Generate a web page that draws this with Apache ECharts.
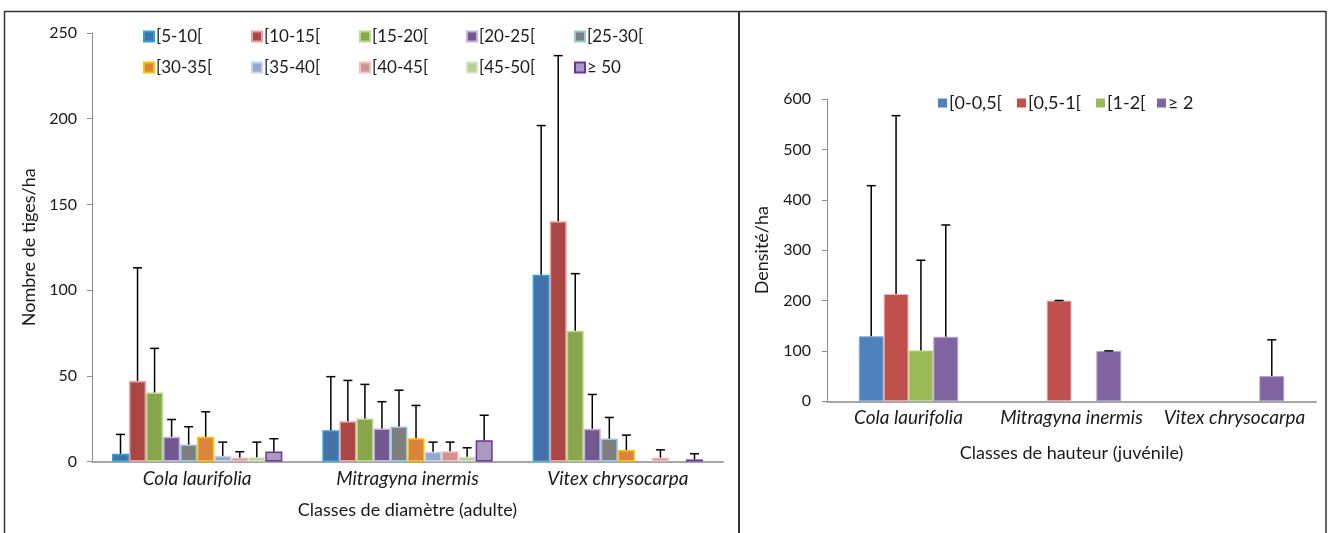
<!DOCTYPE html>
<html>
<head>
<meta charset="utf-8">
<script src="https://cdn.jsdelivr.net/npm/echarts@6/dist/echarts.min.js"></script>
<style>
html,body{margin:0;padding:0;background:#fff;}
#c{width:1330px;height:533px;}
</style>
</head>
<body>
<div id="c"></div>
<script>
// ---------- DATA ----------
const species = ['Cola laurifolia', 'Mitragyna inermis', 'Vitex chrysocarpa'];

// Left chart: diameter classes (adult), stems/ha
const diamClasses = ['[5-10[', '[10-15[', '[15-20[', '[20-25[', '[25-30[', '[30-35[', '[35-40[', '[40-45[', '[45-50[', '≥ 50'];
const colaDiam     = [4.5, 47.0, 40.3, 14.4, 9.9, 14.4, 3.3, 2.3, 2.5, 5.8];
const colaDiamSd   = [11.3, 66.0, 25.7, 10.1, 10.4, 14.6, 8.0, 3.4, 8.8, 7.5];
const mitraDiam    = [18.3, 23.5, 25.1, 19.3, 20.4, 13.6, 5.7, 6.0, 2.7, 12.4];
const mitraDiamSd  = [31.2, 23.8, 19.9, 15.6, 21.2, 19.1, 5.6, 5.3, 5.3, 14.6];
const vitexDiam    = [108.9, 140.2, 76.3, 19.1, 13.4, 6.7, null, 2.3, null, 1.2];
const vitexDiamSd  = [87.1, 96.6, 33.3, 20.0, 12.3, 8.7, null, 4.5, null, 3.3];
const diamTicks = [0, 50, 100, 150, 200, 250];

// Right chart: height classes (juvenile), density/ha
const heightClasses = ['[0-0,5[', '[0,5-1[', '[1-2[', '≥ 2'];
const colaHeight     = [129, 213, 101, 128];
const colaHeightSd   = [299, 354, 179, 222];
const mitraHeight    = [null, 200, null, 100];
const mitraHeightSd  = [null, 0, null, 0];
const vitexHeight    = [null, null, null, 50];
const vitexHeightSd  = [null, null, null, 72];
const heightTicks = [0, 100, 200, 300, 400, 500, 600];

// ---------- STYLE ----------
const FONT = 'Lato, "Open Sans", sans-serif';
const diamFill   = ['#4472A8', '#AA4643', '#89A54E', '#71588F', '#7F7F7F', '#DB843D', '#93A9CF', '#D19392', '#B9CD96', '#A99BBD'];
const diamBorder = ['#2BA3DF', '#E6A3A3', '#B8DC86', '#C7B2DE', '#93CDDD', '#FFC000', '#C5D4EC', '#EFC0C0', '#D6E4BF', '#7030A0'];
const hFill   = ['#4F81BD', '#C0504D', '#9BBB59', '#8064A2'];
const hBorder = ['#8EAADB', '#E6B9B8', '#C3D69B', '#B3A2C7'];

const leftGap = 0.19, rightGap = 0.39;

function errRender(nSeries, gapFrac) {
  return function (params, api) {
    const cat = api.value(0), v = api.value(1), e = api.value(2), s = api.value(3);
    const band = api.size([1, 0])[0];
    const groupW = band * (1 - gapFrac);
    const bw = groupW / nSeries;
    const base = api.coord([cat, v]);
    const top = api.coord([cat, v + e]);
    const x = base[0] - groupW / 2 + bw * (s + 0.5);
    const st = { stroke: '#000', lineWidth: 1.5 };
    return {
      type: 'group',
      children: [
        { type: 'line', shape: { x1: x, y1: base[1], x2: x, y2: top[1] }, style: st },
        { type: 'line', shape: { x1: x - 4.5, y1: top[1], x2: x + 4.5, y2: top[1] }, style: st }
      ]
    };
  };
}

function buildErrData(valArrays, sdArrays) {
  const out = [];
  valArrays.forEach((vals, ci) => {
    vals.forEach((v, si) => {
      const e = sdArrays[ci][si];
      if (v !== null && e !== null) out.push([ci, v, e, si]);
    });
  });
  return out;
}

const leftVals = [colaDiam, mitraDiam, vitexDiam];
const leftSds = [colaDiamSd, mitraDiamSd, vitexDiamSd];
const rightVals = [colaHeight, mitraHeight, vitexHeight];
const rightSds = [colaHeightSd, mitraHeightSd, vitexHeightSd];

const series = [];
diamClasses.forEach((name, i) => {
  series.push({
    name: name, type: 'bar', xAxisIndex: 0, yAxisIndex: 0,
    barGap: 0, barCategoryGap: (leftGap * 100) + '%',
    data: leftVals.map(a => a[i]),
    itemStyle: { color: diamFill[i], borderColor: diamBorder[i], borderWidth: 1.5 }
  });
});
heightClasses.forEach((name, i) => {
  series.push({
    name: name, type: 'bar', xAxisIndex: 1, yAxisIndex: 1,
    barGap: 0, barCategoryGap: (rightGap * 100) + '%',
    data: rightVals.map(a => a[i]),
    itemStyle: { color: hFill[i], borderColor: hBorder[i], borderWidth: 1 }
  });
});
series.push({
  name: 'errLeft', type: 'custom', xAxisIndex: 0, yAxisIndex: 0, z: 5,
  renderItem: errRender(diamClasses.length, leftGap),
  encode: { x: 0, y: 1 },
  data: buildErrData(leftVals, leftSds)
});
series.push({
  name: 'errRight', type: 'custom', xAxisIndex: 1, yAxisIndex: 1, z: 5,
  renderItem: errRender(heightClasses.length, rightGap),
  encode: { x: 0, y: 1 },
  data: buildErrData(rightVals, rightSds)
});

// legends, one per item for column alignment
const legCols = [143, 251, 359, 466, 574];
const legRows = [28, 59];
const legends = [];
diamClasses.forEach((name, i) => {
  legends.push({
    data: [name], left: legCols[i % 5], top: legRows[Math.floor(i / 5)],
    padding: 0, itemWidth: 10, itemHeight: 10, icon: 'rect',
    textStyle: { fontFamily: FONT, fontSize: 17, color: '#1a1a1a', padding: [0, 0, 0, -3] },
    selectedMode: false
  });
});
const rLegX = [938, 1017, 1096, 1157];
heightClasses.forEach((name, i) => {
  legends.push({
    data: [name], left: rLegX[i], top: 94,
    padding: 0, itemWidth: 9, itemHeight: 9, icon: 'rect',
    itemStyle: { borderWidth: 0 },
    textStyle: { fontFamily: FONT, fontSize: 18, color: '#1a1a1a', padding: [0, 0, 0, -3] },
    selectedMode: false
  });
});

const tickStyle = { fontFamily: FONT, fontSize: 16, color: '#1a1a1a' };
const catStyle = { fontFamily: FONT, fontSize: 19, color: '#1a1a1a', fontStyle: 'italic', interval: 0, hideOverlap: false };
const nameStyle = { fontFamily: FONT, fontSize: 18, color: '#1a1a1a' };

const option = {
  animation: false,
  backgroundColor: '#fff',
  textStyle: { fontFamily: FONT },
  grid: [
    { left: 92, right: 1330 - 723, top: 33, bottom: 533 - 461.5 },
    { left: 827, right: 1330 - 1316, top: 99, bottom: 533 - 401.3 }
  ],
  xAxis: [
    {
      type: 'category', gridIndex: 0, data: species,
      name: 'Classes de diamètre (adulte)', nameLocation: 'middle', nameGap: 40, nameTextStyle: nameStyle,
      axisLine: { lineStyle: { color: '#A6A6A6', width: 2 } },
      axisTick: { show: false },
      axisLabel: Object.assign({ margin: 8 }, catStyle)
    },
    {
      type: 'category', gridIndex: 1, data: species,
      name: 'Classes de hauteur (juvénile)', nameLocation: 'middle', nameGap: 43, nameTextStyle: nameStyle,
      axisLine: { lineStyle: { color: '#A6A6A6', width: 2 } },
      axisTick: { show: false },
      axisLabel: Object.assign({ margin: 7 }, catStyle)
    }
  ],
  yAxis: [
    {
      type: 'value', gridIndex: 0, min: diamTicks[0], max: diamTicks[diamTicks.length - 1], interval: 50,
      name: 'Nombre de tiges/ha', nameLocation: 'middle', nameGap: 54, nameTextStyle: nameStyle,
      axisLine: { show: true, lineStyle: { color: '#8C8C8C', width: 1 } },
      axisTick: { show: true, length: 5, lineStyle: { color: '#8C8C8C' } },
      splitLine: { show: false },
      axisLabel: Object.assign({ margin: 15 }, tickStyle)
    },
    {
      type: 'value', gridIndex: 1, min: heightTicks[0], max: heightTicks[heightTicks.length - 1], interval: 100,
      name: 'Densité/ha', nameLocation: 'middle', nameGap: 56, nameTextStyle: nameStyle,
      axisLine: { show: true, lineStyle: { color: '#8C8C8C', width: 1 } },
      axisTick: { show: true, length: 5, lineStyle: { color: '#8C8C8C' } },
      splitLine: { show: false },
      axisLabel: Object.assign({ margin: 16 }, tickStyle)
    }
  ],
  legend: legends,
  series: series,
  graphic: [
    { type: 'line', shape: { x1: 4, y1: 11.5, x2: 1326, y2: 11.5 }, style: { stroke: '#333', lineWidth: 1.5 } },
    { type: 'line', shape: { x1: 4.5, y1: 11, x2: 4.5, y2: 533 }, style: { stroke: '#333', lineWidth: 1.5 } },
    { type: 'line', shape: { x1: 739, y1: 11, x2: 739, y2: 533 }, style: { stroke: '#333', lineWidth: 2 } },
    { type: 'line', shape: { x1: 1326, y1: 11, x2: 1326, y2: 533 }, style: { stroke: '#333', lineWidth: 1.5 } }
  ]
};

const chart = echarts.init(document.getElementById('c'), null, { renderer: 'canvas' });
chart.setOption(option);
</script>
</body>
</html>
